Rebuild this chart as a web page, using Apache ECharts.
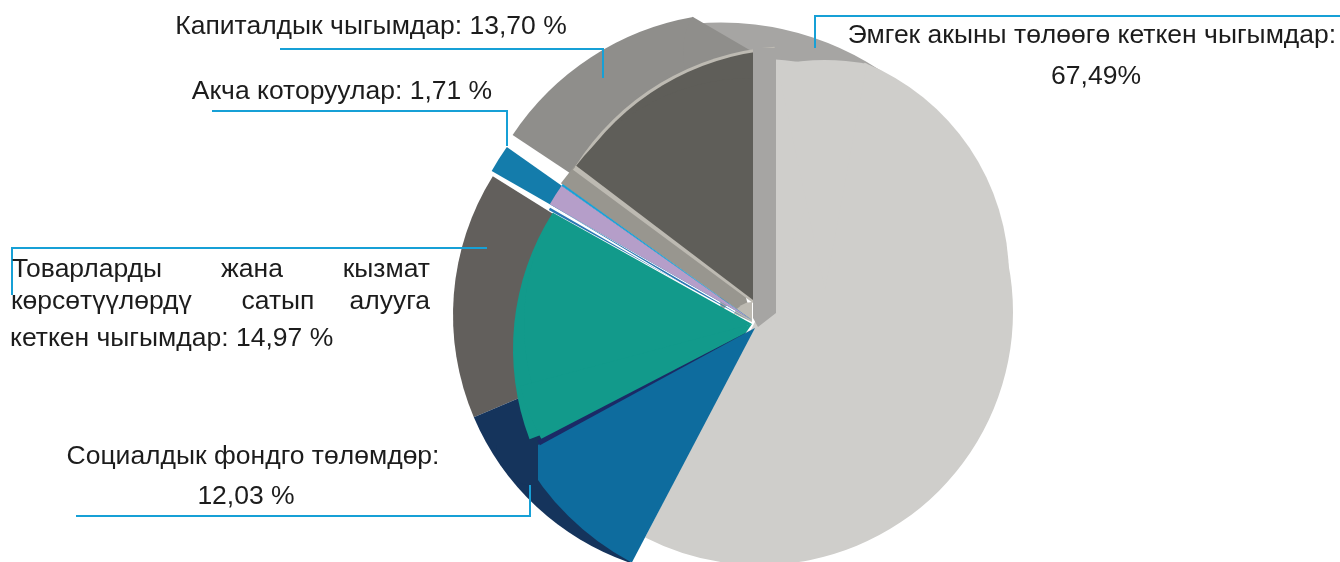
<!DOCTYPE html>
<html><head><meta charset="utf-8">
<style>html,body{margin:0;padding:0;background:#fff}#c{width:1340px;height:562px}</style>
<script src="https://cdn.jsdelivr.net/npm/echarts@6/dist/echarts.min.js"></script>
</head><body><div id="c"></div>
<script>
// Values printed on the chart
var categories = ['Эмгек акыны төлөөгө кеткен чыгымдар','Капиталдык чыгымдар','Акча которуулар','Товарларды жана кызмат көрсөтүүлөрдү сатып алууга кеткен чыгымдар','Социалдык фондго төлөмдөр'];
var printedValues = ['67,49%','13,70 %','1,71 %','14,97 %','12,03 %'];
// Angular extents as drawn in the picture (degrees clockwise from north)
var wageArc = [0, 207];
var capitalArc = [302.6, 355.7];
var transferArc = [299.8, 305.2];
var goodsArc = [249.2, 302.4];
var socialArc = [207.7, 241.7];

var BLUE='#17a0d6', RIM='#8f8e8b', BACK='#a6a5a3', FACE='#5f5e59', EDGE='#bdbab2', SIDE='#625f5c', NAVY='#15345c', LIGHT='#cfcecb', TEAL='#129a8b';
// layers: [cx, cy, r, arc, colour] in painting order
var layers = [
 [721,312,289.5,[355,42],BACK],
 [740,286,273,[303.6,350.1],RIM],
 [753,52,70,[200,300.3],RIM],
 [715,315,262,[247,302],SIDE],
 [715,315,262,[199,247],NAVY],
 [752,320,235,[305.6,345],'#98968f'],
 [794,305,259,[capitalArc[0]-.4,capitalArc[1]],EDGE],
 [753,303,224,[306.5,360],EDGE],
 [794,305,256,capitalArc,FACE],
 [753,300,222,[307.2,360],FACE],
 [767,349,254,goodsArc,TEAL],
 [752,324,228,[250,299.2],TEAL],
 [752,324,240,[215,255],TEAL],
 [760,312,253,wageArc,LIGHT],
 [778,277,231,[22,90],LIGHT],
 [825,290,230,[348,10.5],LIGHT],
 [752,322,20,[295,360],EDGE],
 [755,328,265,socialArc,'#0e6c9e'],
 [755,328,245,[241.4,242.6],'#1b2a66'],
 [538,445,42,[180,270],NAVY],
 [752,322,232,[298.9,300.2],'#2a78b4'],
 [703,296,241,[300,301],'#ffffff'],
 [752,320,300,transferArc,'#147cab'],
 [752,320,233,transferArc,'#b59ec9'],
 [752,320,233,[305.2,305.7],BLUE]
];
var series = layers.map(function(l){
  var a=l[3], span=(a[1]-a[0]+360)%360;
  return {type:'pie',silent:true,animation:false,center:[l[0],l[1]],radius:l[2],
    startAngle:90-a[0],label:{show:false},labelLine:{show:false},
    emphasis:{disabled:true},
    data:[{value:span,itemStyle:{color:l[4]}},{value:360-span,itemStyle:{color:'transparent'}}]};
});
function txt(s,x,y,align){return {type:'text',z:20,style:{text:s,x:x,y:y,textAlign:align||'left',textVerticalAlign:'middle',fontFamily:'Liberation Sans',fontSize:26.5,fill:'#1c1c1c'}};}
function line(pts){return {type:'polyline',z:15,shape:{points:pts},style:{stroke:BLUE,lineWidth:2,fill:null}};}
var goodsWords=['Товарларды','жана','кызмат','көрсөтүүлөрдү','сатып','алууга'];
var graphics=[
 {type:'polygon',z:10,shape:{points:[[753,48],[776,48],[776,313],[758,327],[753,318]]},style:{fill:BACK}},
 line([[280,49],[603,49],[603,78]]),
 line([[212,111],[507,111],[507,146]]),
 line([[487,248],[12,248],[12,295]]),
 line([[76,516],[530,516],[530,485]]),
 line([[1340,16],[815,16],[815,48]]),
 txt(categories[1]+': '+printedValues[1],371,27,'center'),
 txt(categories[2]+': '+printedValues[2],342,92,'center'),
 txt(categories[0]+':',1092,36,'center'),
 txt(printedValues[0],1096,77,'center'),
 txt(goodsWords[0],12,270),txt(goodsWords[1],252,270,'center'),txt(goodsWords[2],430,270,'right'),
 txt(goodsWords[3],11,302),txt(goodsWords[4],278,302,'center'),txt(goodsWords[5],430,302,'right'),
 txt('кеткен чыгымдар: '+printedValues[3],10,339),
 txt(categories[4]+':',253,457,'center'),
 txt(printedValues[4],246,497,'center')
];
var chart=echarts.init(document.getElementById('c'),null,{renderer:'canvas'});
chart.setOption({animation:false,backgroundColor:'#fff',series:series,graphic:{elements:graphics}});
</script></body></html>
